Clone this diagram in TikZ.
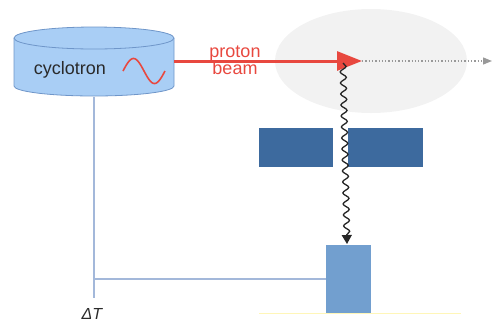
\documentclass[tikz,border=0pt]{standalone}
\usepackage{fontspec}
\setmainfont{Liberation Sans}
\usetikzlibrary{arrows.meta,decorations.pathmorphing,shapes.geometric}
\definecolor{cylfill}{HTML}{A9CEF5}
\definecolor{cyledge}{HTML}{6F96C9}
\definecolor{beamred}{HTML}{E8483F}
\definecolor{ellgray}{HTML}{F2F2F2}
\definecolor{darkblk}{HTML}{3D6A9E}
\definecolor{detblue}{HTML}{729FCF}
\definecolor{wireblue}{HTML}{A3B8DA}
\definecolor{softyellow}{HTML}{FFF6B8}
\definecolor{txtgray}{HTML}{2A2A2A}
\tikzset{
  wire/.style={wireblue, line width=1.3pt},
  collim/.style={fill=darkblk, draw=none},
}
\begin{document}
\begin{tikzpicture}[x=1pt,y=-1pt]
\useasboundingbox (0,0) rectangle (496,325);
% target ellipse
\fill[ellgray] (371,61) ellipse [x radius=96, y radius=52];
% wires
\coordinate (cylb) at (94,97);
\coordinate (dtend) at (94,298);
\draw[wire] (cylb) -- (dtend);
% collimator blocks
\node[collim, minimum width=74pt, minimum height=39pt, inner sep=0pt] (colL) at (296,147.5) {};
\node[collim, minimum width=75pt, minimum height=39pt, inner sep=0pt] (colR) at (385.5,147.5) {};
% detector
\node[fill=detblue, minimum width=45pt, minimum height=68pt, inner sep=0pt] (det) at (348.5,279) {};
\coordinate (hwire) at (94,279);
\draw[wire] (hwire) -- (det.west);
% yellow baseline
\coordinate (yl) at (259,313.5);
\coordinate (yr) at (461,313.5);
\draw[softyellow, line width=1pt] (yl) -- (yr);
% cylinder
\fill[cylfill] (14,38) -- (14,86) arc[start angle=180, end angle=0, x radius=80, y radius=10] -- (174,38) -- cycle;
\draw[cyledge, line width=0.8pt] (14,38) -- (14,86) arc[start angle=180, end angle=0, x radius=80, y radius=10] -- (174,38);
\draw[cyledge, line width=0.8pt, fill=cylfill] (94,38) ellipse [x radius=80, y radius=11];
\node[text=txtgray, font=\fontsize{18}{20}\selectfont, inner sep=0pt] (cyc) at (70,70) {cyclotron};
\draw[beamred, line width=1.6pt, domain=0:1, samples=50, smooth]
  plot ({123+42*\x}, {71-12.5*sin(360*\x)});
% proton beam
\coordinate (beamstart) at (174,61);
\coordinate (beamtip) at (362,61);
\draw[beamred, line width=3pt, -{Triangle[length=25pt,width=19pt]}] (beamstart) -- (beamtip);
\node[text=beamred, font=\fontsize{18}{20}\selectfont, align=center, inner sep=0pt] (lbl) at (235,60) {proton\\[-3pt]beam};
% dotted continuation
\coordinate (zend) at (492,61);
\draw[gray!80, line width=1.3pt, dotted, -{Triangle[length=9pt,width=7pt]}] (beamtip) -- (zend);
% gamma
\coordinate (gstart) at (343,63);
\coordinate (gend) at (347,244);
\draw[black!85, line width=1.3pt, decorate, decoration={snake, amplitude=3pt, segment length=11pt, post length=9pt}, -{Triangle[length=9pt,width=10pt]}] (gstart) -- (gend);
% Delta T
\node[text=txtgray, font=\fontsize{16}{18}\selectfont\itshape, inner sep=0pt] (dt) at (92,314) {ΔT};
\end{tikzpicture}
\end{document}
